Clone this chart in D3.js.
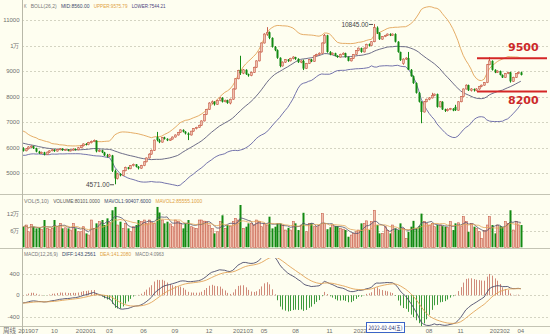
<!DOCTYPE html>
<html lang="zh">
<head>
<meta charset="UTF-8">
<title>周线 K BOLL</title>
<script src="https://d3js.org/d3.v7.min.js"></script>
<style>
  body { margin: 0; background: #fefef0; }
  svg { display: block; font-family: "DejaVu Sans", "Noto Sans CJK SC", sans-serif; }
</style>
</head>
<body>
<svg width="550" height="334"></svg>
<script>
// weekly bars, 2019-07 .. 2023-04
const open = [
  5980,5880,5960,6030,6060,5980,5850,5790,5820,5740,
  5830,5880,5920,5870,5930,5960,5900,5930,5880,5910,
  5950,5920,6000,6080,6150,6120,6200,6250,6280,5860,
  5900,5820,5700,5660,5700,5100,4800,4980,4920,5100,
  5230,5180,5300,5350,5260,5200,5300,5450,5600,5750,
  5900,6420,6300,6220,6400,6350,6290,6340,6420,6500,
  6600,6700,6630,6560,6500,6650,6750,6800,6880,7050,
  7300,7500,7750,7800,7700,7850,7950,7800,7860,7750,
  7900,8300,8700,9050,8920,9050,8880,8830,8950,9150,
  9400,9750,10100,10450,10520,10300,9950,9820,9520,9200,
  9350,9450,9400,9500,9550,9480,9350,9400,9100,9300,
  9450,9380,9600,9650,9700,10100,10400,9750,9650,9700,
  9600,9550,9650,9700,9550,9400,9500,9650,9800,9900,
  9750,9900,10050,10000,10150,10700,10500,10250,10350,10400,
  10450,10400,10450,10150,9750,9300,9470,9510,9050,8800,
  8530,8150,7800,7400,7800,7900,7950,8050,8100,7600,
  7800,7500,7450,7500,7530,7600,7470,7800,8000,8300,
  8450,8250,8300,8250,8300,8400,8450,8550,9250,9400,
  9050,8950,9000,8850,8750,8900,8950,8600,8750,8900,
  8950
];
const high = [
  6020,5990,6060,6090,6080,6000,5880,5850,5840,5850,
  5900,5950,5940,5960,5990,5980,5960,5950,5930,5980,
  5970,6030,6100,6170,6180,6230,6280,6320,6290,5940,
  5920,5840,5760,5760,5720,5150,5020,5000,5120,5260,
  5250,5320,5380,5360,5280,5330,5470,5620,5780,5930,
  6320,6620,6350,6420,6430,6370,6360,6440,6520,6620,
  6720,6720,6650,6600,6660,6770,6820,6900,7070,7320,
  7520,7780,7850,7820,7880,7980,7980,7880,7880,7920,
  8320,8720,9050,9600,9080,9070,8900,8980,9170,9420,
  9770,10120,10480,10720,10550,10320,9980,9850,9540,9380,
  9470,9470,9520,9580,9560,9500,9420,9450,9320,9470,
  9480,9620,9680,9730,10120,10450,10420,9780,9730,9720,
  9620,9680,9730,9720,9570,9520,9670,9820,9920,9920,
  9920,10070,10080,10170,10845,10750,10520,10370,10420,10470,
  10480,10470,10480,10170,9760,9500,9540,9750,9080,8830,
  8560,8180,7820,7830,7920,7980,8150,8120,8120,7830,
  7820,7530,7540,7560,7550,7680,7820,8020,8320,8480,
  8470,8330,8320,8330,8420,8470,8570,9280,9550,9420,
  9070,9030,9020,8870,8920,8970,8970,8780,8920,8980,
  8980
];
const low = [
  5850,5860,5930,5990,5950,5820,5760,5760,5700,5720,
  5800,5860,5840,5850,5900,5880,5880,5860,5860,5890,
  5890,5900,5980,6050,6090,6100,6170,6220,5820,5830,
  5790,5680,5620,5640,5050,4571,4760,4880,4900,5080,
  5150,5160,5270,5230,5150,5180,5280,5430,5580,5730,
  5880,6250,6180,6200,6320,6260,6270,6320,6400,6480,
  6580,6600,6520,6300,6480,6630,6720,6780,6860,7030,
  7280,7480,7700,7650,7680,7820,7770,7780,7720,7700,
  7880,8280,8680,8850,8880,8850,8780,8800,8930,9130,
  9380,9730,10080,10380,10250,9920,9780,9480,9150,9180,
  9320,9360,9380,9460,9440,9320,9310,9040,9080,9280,
  9350,9360,9570,9620,9680,10080,9720,9620,9630,9580,
  9520,9530,9630,9530,9380,9380,9480,9630,9780,9720,
  9730,9880,9960,9980,10130,10450,10220,10230,10330,10380,
  10370,10380,10120,9720,9400,9250,9440,9040,8780,8500,
  8120,7770,6960,7380,7780,7860,7930,8020,7570,7580,
  7480,7400,7420,7470,7430,7440,7450,7780,7980,8280,
  8220,8200,8200,8210,8270,8370,8430,8530,9230,9020,
  8920,8930,8830,8730,8730,8880,8550,8580,8730,8880,
  8830
];
const close = [
  5880,5960,6030,6060,5980,5850,5790,5820,5740,5830,
  5880,5920,5870,5930,5960,5900,5930,5880,5910,5950,
  5920,6000,6080,6150,6120,6200,6250,6280,5860,5900,
  5820,5700,5660,5720,5100,4800,4980,4920,5100,5230,
  5180,5300,5350,5260,5200,5300,5450,5600,5750,5900,
  6300,6300,6220,6400,6350,6290,6340,6420,6500,6600,
  6700,6630,6560,6500,6650,6750,6800,6880,7050,7300,
  7500,7750,7800,7700,7850,7950,7800,7860,7750,7900,
  8300,8700,9020,8920,9050,8880,8830,8950,9150,9400,
  9750,10100,10450,10520,10300,9950,9820,9520,9200,9350,
  9450,9400,9500,9550,9480,9350,9400,9100,9300,9450,
  9380,9600,9650,9700,10100,10400,9750,9650,9700,9600,
  9550,9650,9700,9550,9400,9500,9650,9800,9900,9750,
  9900,10050,10000,10150,10700,10500,10250,10350,10400,10450,
  10400,10450,10150,9750,9430,9470,9510,9050,8800,8530,
  8150,7800,7400,7800,7900,7950,8050,8100,7600,7800,
  7500,7450,7500,7530,7460,7470,7800,8000,8300,8450,
  8250,8300,8250,8300,8400,8450,8550,9250,9400,9050,
  8950,9000,8850,8750,8900,8950,8600,8750,8900,8950,
  8850
];
// volume in 万
const volume = [
  7.4,8,5.6,8.2,7.4,6.8,7,6.5,9.8,6.8,
  6.5,6.8,9.8,7.4,8.6,6.8,7,6.8,6.2,8.6,
  6.8,5.6,5.6,7.4,5,4.4,9.8,6.8,8.6,9.2,
  9.8,8,10.4,9,13.3,14.5,8,9.2,6.8,8.6,
  6.8,5.6,7.4,8,9.8,9.2,9.8,8.6,9.8,9,
  8.6,14.5,12.5,9.8,8.6,9.2,8.4,7.4,9.8,9.2,
  8.6,6.8,8.6,9.8,7.4,7,6.8,9.8,9.8,9.4,
  9.2,8,6.8,5,5.6,9.2,11.5,6.8,8,7.6,
  9.2,10.4,9.8,15.7,6.8,7.4,8.6,8.6,8,9.8,
  9.2,7.4,8.4,8,11,6.8,7.4,8.6,8.6,8,
  6.2,7,6.2,9.2,8.6,6.2,8,12.4,5.6,8.6,
  8.6,7.4,7.4,7.8,12.1,8.6,6.5,7.2,8,7.6,
  7.6,6.8,6.5,6.2,3.8,4.4,5,5.6,6.2,8.6,
  8.6,9.5,6.2,9.2,13.3,8,5,5,7.4,6,
  5,8,6.8,6.2,8.6,6.8,3.2,5.6,7.4,9.5,
  6.8,7.6,12.1,9.2,8.6,8,8.6,7.4,8,8,
  7.6,7.4,7.1,9.2,6.2,8.6,8.8,7.4,11,9.2,
  5.6,8.6,7.4,6.8,5.6,3.2,6,8,11,8,
  5,8,7.6,7.4,9.2,8.6,13.3,6.2,9.2,8,
  8
];
// closes before the visible range, only used to warm up BOLL / MACD
const priorClose = [6650,6600,6700,6550,6450,6400,6500,6300,6350,6250,6200,6300,6100,
  6050,6150,6000,6050,6100,5950,6000,5900,5950,6050,5950,6000,5950];

const tickIndex = [2, 12, 24, 33, 46, 58, 71, 84, 92, 104, 117, 130, 155, 167, 182, 190];
const tickText = ["201907","10","202001","03","06","09","12","202103","05","08","11","202202","08","11","202302","04"];
const priceTicks = [5000, 6000, 7000, 8000, 9000, 10000, 11000];
const volTicks = [6, 12];
const macdTicks = [-400, 0, 400];
const levels = [9500, 8200];
const cursorIndex = 130, cursorText = "2022-02-04(五)";

const svg = d3.select("svg");
const W = 550, axisX = 22;
const x = d3.scaleLinear().domain([0, close.length - 1]).range([23, 520.8]);
const y = d3.scaleLinear().domain([5000, 11000]).range([173.3, 20]);
const yv = d3.scaleLinear().domain([0, 12]).range([247.3, 213.9]);
const ym = d3.scaleLinear().domain([-400, 400]).range([316.6, 274]);
const px = i => Math.round(x(i));
const idx = d3.range(close.length);

const RED = "#c8604c", RED_FILL = "#efc0ae", GREEN = "#128a12";
const GRID = "#d4d4c2", LABEL = "#6e6e6e";
const NARROW = "'Liberation Sans', Arial, sans-serif";

// indicators
const allC = priorClose.concat(close), P = priorClose.length;
const boll = idx.map(i => {
  const win = allC.slice(i + P - 25, i + P + 1);
  const mid = d3.mean(win), sd = d3.deviation(win);
  return { mid, up: mid + 2 * sd, lo: mid - 2 * sd };
});
let e12 = allC[0], e26 = allC[0], dea = 0;
const macd = [];
allC.forEach((c, k) => {
  e12 = (2 * c + 11 * e12) / 13;
  e26 = (2 * c + 25 * e26) / 27;
  const diff = e12 - e26;
  dea = (2 * diff + 8 * dea) / 10;
  if (k >= P) macd.push({ diff, dea, bar: 2 * (diff - dea) });
});
const mavol = n => idx.map(i => d3.mean(volume.slice(Math.max(0, i - n + 1), i + 1)));
const mv5 = mavol(5), mv10 = mavol(10);

// clips
const defs = svg.append("defs");
[["clipMain", 0, 194], ["clipVol", 205, 248], ["clipMacd", 258, 326]].forEach(([id, y0, y1]) => {
  defs.append("clipPath").attr("id", id).append("rect")
    .attr("x", axisX + 0.5).attr("y", y0).attr("width", W).attr("height", y1 - y0);
});

// grid lines + left labels
function grid(values, scale, fmt) {
  const g = svg.append("g");
  g.selectAll("line").data(values).join("line")
    .attr("x1", axisX).attr("x2", W)
    .attr("y1", d => Math.round(scale(d)) + 0.5).attr("y2", d => Math.round(scale(d)) + 0.5)
    .attr("stroke", GRID).attr("stroke-dasharray", "2,2");
  g.selectAll("text").data(values).join("text")
    .attr("x", axisX - 2.5).attr("y", d => scale(d)).attr("dy", "0.35em")
    .attr("text-anchor", "end").attr("font-size", 6).attr("font-family", NARROW)
    .attr("fill", LABEL)
    .text(fmt);
}
grid(priceTicks, y, d => d === 10000 ? "1万" : d);
grid(volTicks, yv, d => d + "万");
grid(macdTicks, ym, d => d);

// panel frames
svg.append("g").selectAll("line")
  .data([194.5, 248.5, 326.5]).join("line")
  .attr("x1", 0).attr("x2", W).attr("y1", d => d).attr("y2", d => d)
  .attr("stroke", "#c4c4b4");
svg.append("line").attr("x1", axisX + 0.5).attr("x2", axisX + 0.5)
  .attr("y1", 0).attr("y2", 334).attr("stroke", "#b8b8a8");

// main panel
const main = svg.append("g").attr("clip-path", "url(#clipMain)");
const bandLine = key => d3.line().x((d, i) => x(i)).y(d => y(d[key]));
[["up", "#e2a458"], ["mid", "#5c5c7c"], ["lo", "#6464a4"]].forEach(([k, c]) => {
  main.append("path").datum(boll).attr("d", bandLine(k))
    .attr("fill", "none").attr("stroke", c).attr("stroke-width", 0.9);
});
const up = i => close[i] >= open[i];
main.selectAll(".wick").data(idx).join("line")
  .attr("x1", i => px(i) + 0.5).attr("x2", i => px(i) + 0.5)
  .attr("y1", i => y(high[i])).attr("y2", i => y(low[i]))
  .attr("stroke", i => up(i) ? RED : GREEN).attr("stroke-width", 1);
main.selectAll(".body").data(idx).join("rect")
  .attr("x", i => px(i) - 0.5).attr("width", 2)
  .attr("y", i => y(Math.max(open[i], close[i])))
  .attr("height", i => Math.max(1, Math.abs(y(open[i]) - y(close[i]))))
  .attr("fill", i => up(i) ? RED_FILL : GREEN)
  .attr("stroke", i => up(i) ? RED : "none").attr("stroke-width", 0.6);

// key levels
levels.forEach(v => {
  main.append("line").attr("x1", 477).attr("x2", 547)
    .attr("y1", y(v)).attr("y2", y(v))
    .attr("stroke", "#d42626").attr("stroke-width", 2);
});
svg.append("text").attr("x", 508).attr("y", y(levels[0]) - 11).attr("dy", "0.35em")
  .attr("font-size", 11).attr("font-weight", "bold").attr("fill", "#cc2a2a").text(levels[0]);
svg.append("text").attr("x", 508).attr("y", y(levels[1]) + 9).attr("dy", "0.35em")
  .attr("font-size", 11).attr("font-weight", "bold").attr("fill", "#cc2a2a").text(levels[1]);

// extreme markers
const hi = d3.maxIndex(high), lo = d3.minIndex(low);
[[hi, high[hi]], [lo, low[lo]]].forEach(([i, v]) => {
  svg.append("line").attr("x1", px(i) - 5).attr("x2", px(i) - 1)
    .attr("y1", y(v) + 0.5).attr("y2", y(v) + 0.5).attr("stroke", "#555");
  svg.append("text").attr("x", px(i) - 5.5).attr("y", y(v) + 0.5).attr("dy", "0.35em")
    .attr("text-anchor", "end").attr("font-size", 6.5).attr("font-family", NARROW)
    .attr("fill", "#444")
    .text(v.toFixed(2));
});

// volume panel
const vol = svg.append("g").attr("clip-path", "url(#clipVol)");
vol.selectAll("rect").data(idx).join("rect")
  .attr("x", i => px(i) - 0.5).attr("width", 2)
  .attr("y", i => yv(volume[i])).attr("height", i => yv(0) - yv(volume[i]))
  .attr("fill", i => up(i) ? RED_FILL : GREEN)
  .attr("stroke", i => up(i) ? RED : "none").attr("stroke-width", 0.6);
[[mv5, "#50506e"], [mv10, "#e2a458"]].forEach(([s, c]) => {
  vol.append("path").datum(s)
    .attr("d", d3.line().x((d, i) => x(i)).y(d => yv(d)))
    .attr("fill", "none").attr("stroke", c).attr("stroke-width", 0.8);
});

// macd panel
const mg = svg.append("g").attr("clip-path", "url(#clipMacd)");
mg.selectAll("line").data(macd).join("line")
  .attr("x1", (d, i) => px(i) + 0.5).attr("x2", (d, i) => px(i) + 0.5)
  .attr("y1", ym(0)).attr("y2", d => ym(d.bar))
  .attr("stroke", d => d.bar >= 0 ? "#d08a7a" : "#3c9a3c").attr("stroke-width", 1);
[["diff", "#4c4c6c"], ["dea", "#e2a458"]].forEach(([k, c]) => {
  mg.append("path").datum(macd)
    .attr("d", d3.line().x((d, i) => x(i)).y(d => ym(d[k])))
    .attr("fill", "none").attr("stroke", c).attr("stroke-width", 0.9);
});

// panel titles: each part its own text, squeezed to the reference width
function title(yy, parts, charW) {
  let cx = 24;
  parts.forEach(([s, c]) => {
    svg.append("text").attr("x", cx).attr("y", yy).attr("font-size", 5.5)
      .attr("font-family", NARROW).attr("fill", c)
      .attr("textLength", s.length * charW).attr("lengthAdjust", "spacingAndGlyphs")
      .text(s);
    cx += (s.length + 1.6) * charW;
  });
}
title(7.5, [["K", "#777"], ["BOLL(26,2)", "#777"], ["MID:8560.00", "#3c4a6a"],
  ["UPPER:9575.79", "#e0a040"], ["LOWER:7544.21", "#4a3c7a"]], 2.6);
title(202.5, [["VOL(5,10)", "#777"], ["VOLUME:80101.0000", "#555"],
  ["MAVOL1:90407.6000", "#3c4a6a"], ["MAVOL2:85555.1000", "#e0a040"]], 2.75);
title(255.5, [["MACD(12,26,9)", "#777"], ["DIFF:143.2561", "#3c4a6a"],
  ["DEA:141.2080", "#e0a040"], ["MACD:4.0963", "#777"]], 2.6);

// time axis
svg.append("g").selectAll("text").data(tickIndex).join("text")
  .attr("x", i => x(i)).attr("y", 330.5).attr("dy", "0.35em")
  .attr("text-anchor", "middle").attr("font-size", 6).attr("font-family", NARROW)
  .attr("fill", LABEL)
  .text((d, k) => tickText[k]);
svg.append("text").attr("x", 3).attr("y", 330.5).attr("dy", "0.35em")
  .attr("font-size", 6.5).attr("fill", LABEL).text("周线");

// cursor date box, drawn over the axis label as in the reference
const cx = px(cursorIndex);
svg.append("rect").attr("x", cx + 2.5).attr("y", 322.5).attr("width", 38).attr("height", 10)
  .attr("fill", "#fff").attr("stroke", "#3a64c8");
svg.append("text").attr("x", cx + 21.5).attr("y", 327.8).attr("dy", "0.35em")
  .attr("text-anchor", "middle").attr("font-size", 6).attr("fill", "#1e2e6a")
  .attr("textLength", 34).attr("lengthAdjust", "spacingAndGlyphs").text(cursorText);
</script>
</body>
</html>
